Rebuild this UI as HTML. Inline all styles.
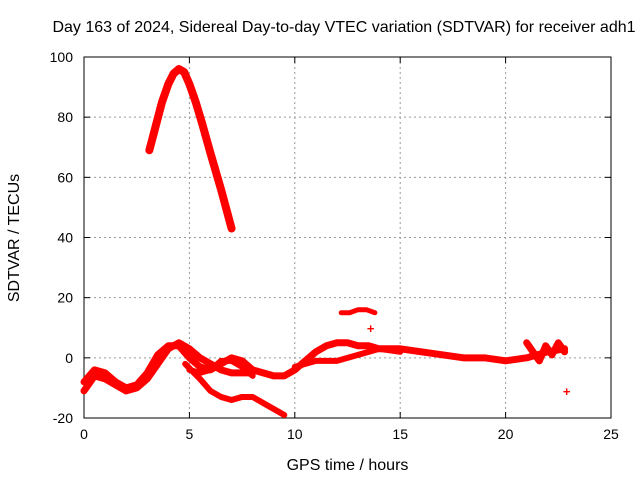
<!DOCTYPE html>
<html><head><meta charset="utf-8"><style>
body{margin:0;background:#fff}
text{font-family:"Liberation Sans",sans-serif;font-size:13px;fill:#000}
</style></head><body>
<svg id="c" width="640" height="480"></svg>
<script>
const xTicks=[0,5,10,15,20,25];
const yTicks=[-20,0,20,40,60,80,100];
const arcX=[3.1,3.4,3.7,4,4.25,4.5,4.75,5,5.3,5.6,6,6.5,7];
const arcY=[69,77,85,91,94.5,96,95,91,85,78,68,56,43];
const mainX=[0,0.5,1,1.5,2,2.5,3,3.5,4,4.5,5,5.5,6,6.5,7,7.5,8,8.5,9,9.5,10,10.5,11,11.5,12,12.5,13,13.5,14,15,16,17,18,19,20,21,22,22.8];
const mainY=[-8,-4,-5,-8,-10,-9,-5,1,4,4,0,-3,-4,-2,0,-1,-4,-5,-6,-6,-4,-1,2,4,5,5,4,4,3,3,2,1,0,0,-1,0,2,3];
const secX=[0,0.5,1,1.5,2,2.5,3,3.5,4,4.5,5,5.5,6,6.5,7,7.5,8];
const secY=[-11,-6,-7,-9,-11,-10,-7,-2,3,5,3,0,-2,-4,-5,-5,-5];
const descX=[4.8,5.5,6,6.5,7,7.5,8,8.5,9,9.5];
const descY=[-2,-7,-11,-13,-14,-13,-13,-15,-17,-19];
const lensX=[5,5.5,6,6.5,7,7.5,8];
const lensY=[-4,-5,-4,-1,-1,-3,-6];
const lateX=[10,11,12,13,14,15];
const lateY=[-3,-1,-1,1,3,2];
const blipX=[12.2,12.6,13,13.4,13.8];
const blipY=[15,15,16,16,15];
const noiseX=[21,21.3,21.6,21.9,22.2,22.5,22.8];
const noiseY=[5,2,-1,4,1,5,2];
const dotX=[13.6,22.9];
const dotY=[10,-11];
const svg=document.getElementById('c');
const NS='http://www.w3.org/2000/svg';
const L=84,R=611,T=57,B=418;
const sx=v=>L+(v-0)/25*(R-L);
const sy=v=>B-(v+20)/120*(B-T);
function mk(t,a){const e=document.createElementNS(NS,t);for(const k in a)e.setAttribute(k,a[k]);svg.appendChild(e);return e;}
xTicks.forEach(v=>{
 if(v>0&&v<25){const g=mk('line',{x1:sx(v),x2:sx(v),y1:T,y2:B,stroke:'#999','stroke-dasharray':'2,3'});
 
 }
 const t=mk('text',{x:sx(v),y:B+21,'text-anchor':'middle',style:'font-size:14px'});t.textContent=v;
 
 
 mk('line',{x1:sx(v),x2:sx(v),y1:B,y2:B-6,stroke:'#000'});
 mk('line',{x1:sx(v),x2:sx(v),y1:T,y2:T+6,stroke:'#000'});
});
yTicks.forEach(v=>{
 if(v>-20&&v<100){const g=mk('line',{x1:L,x2:R,y1:sy(v),y2:sy(v),stroke:'#999','stroke-dasharray':'2,3'});
 
 }
 const t=mk('text',{x:L-11,y:sy(v)+5,'text-anchor':'end',style:'font-size:14px'});t.textContent=v;
 
 
 mk('line',{x1:L,x2:L+6,y1:sy(v),y2:sy(v),stroke:'#000'});
 mk('line',{x1:R,x2:R-6,y1:sy(v),y2:sy(v),stroke:'#000'});
});
const fr=mk('rect',{x:L,y:T,width:R-L,height:B-T,fill:'none',stroke:'#000'});


function series(xs,ys,name,w){
 const p=xs.map((x,i)=>sx(x)+','+sy(ys[i])).join(' ');
 const e=mk('polyline',{points:p,fill:'none',stroke:'#f00','stroke-width':w,'stroke-linejoin':'round','stroke-linecap':'round'});
 
 
}
series(arcX,arcY,'series-arc',8);
series(mainX,mainY,'series-main',7);
series(secX,secY,'series-second',7);
series(descX,descY,'series-descending',6);
series(lensX,lensY,'series-lens',6);
series(lateX,lateY,'series-late',6);
series(blipX,blipY,'series-blip',5);
series(noiseX,noiseY,'series-noise',7);
dotX.forEach((x,i)=>{const e=mk('text',{x:sx(x),y:sy(dotY[i])+5,'text-anchor':'middle',style:'fill:#f00;font-weight:bold'});e.textContent='+';
 
 });
const ti=mk('text',{x:344,y:32,'text-anchor':'middle',style:'font-size:16px'});ti.textContent='Day 163 of 2024, Sidereal Day-to-day VTEC variation (SDTVAR) for receiver adh1';


const xl=mk('text',{x:sx(12.5),y:470,'text-anchor':'middle',style:'font-size:16px'});xl.textContent='GPS time / hours';


const yl=mk('text',{x:0,y:0,'text-anchor':'middle',style:'font-size:16px',transform:'translate(19,238) rotate(-90)'});yl.textContent='SDTVAR / TECUs';


</script>
</body></html>
